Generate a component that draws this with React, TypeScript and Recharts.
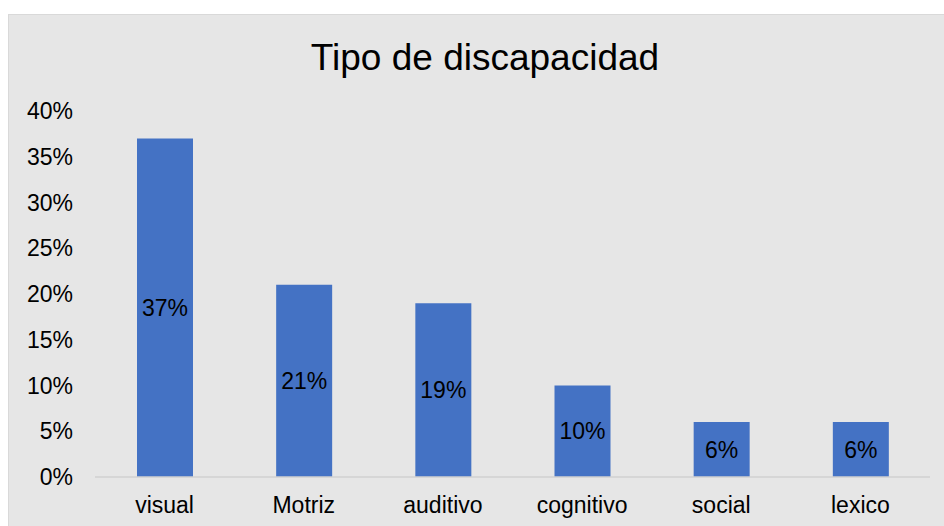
import React from 'react';
import { BarChart, Bar, XAxis, YAxis, LabelList } from 'recharts';

const categories = ['visual', 'Motriz', 'auditivo', 'cognitivo', 'social', 'lexico'];
const percentages = [37, 21, 19, 10, 6, 6];
const yTicks = [0, 5, 10, 15, 20, 25, 30, 35, 40];

const FONT = '"Liberation Sans", Arial, sans-serif';

const data = categories.map((name, i) => ({ name, value: percentages[i] }));

const App: React.FC = () => {
  return (
    <div
      style={{
        position: 'fixed',
        left: 8,
        top: 14,
        width: 936,
        height: 512,
        background: '#e6e6e6',
        borderLeft: '1px solid #d9d9d9',
        borderTop: '1px solid #d9d9d9',
        boxSizing: 'border-box',
        fontFamily: FONT,
      }}
    >
      <div
        style={{
          position: 'absolute',
          left: 476,
          top: 24,
          transform: 'translateX(-50%)',
          fontSize: 37,
          lineHeight: '37px',
          color: '#000',
          whiteSpace: 'nowrap',
        }}
      >
        Tipo de discapacidad
      </div>
      <BarChart
        width={936}
        height={512}
        data={data}
        margin={{ top: 97, right: 14, left: 0, bottom: 9 }}
        style={{ position: 'absolute', left: -1, top: -1 }}
      >
        <XAxis
          dataKey="name"
          height={40}
          axisLine={{ stroke: '#d0d0d0', strokeWidth: 1.5 }}
          tickLine={false}
          tickSize={6}
          tickMargin={14}
          tick={{ fontSize: 23, fill: '#000', fontFamily: FONT }}
          interval={0}
        />
        <YAxis
          width={87}
          domain={[0, 40]}
          ticks={yTicks}
          axisLine={false}
          tickLine={false}
          tickSize={6}
          tickMargin={16}
          tickFormatter={(v: number) => `${v}%`}
          tick={{ fontSize: 23, fill: '#000', fontFamily: FONT }}
        />
        <Bar dataKey="value" fill="#4472c4" barSize={56} isAnimationActive={false}>
          <LabelList
            dataKey="value"
            position="center"
            formatter={(v: number) => `${v}%`}
            style={{ fontSize: 23, fill: '#000', fontFamily: FONT }}
          />
        </Bar>
      </BarChart>
    </div>
  );
};

export default App;
